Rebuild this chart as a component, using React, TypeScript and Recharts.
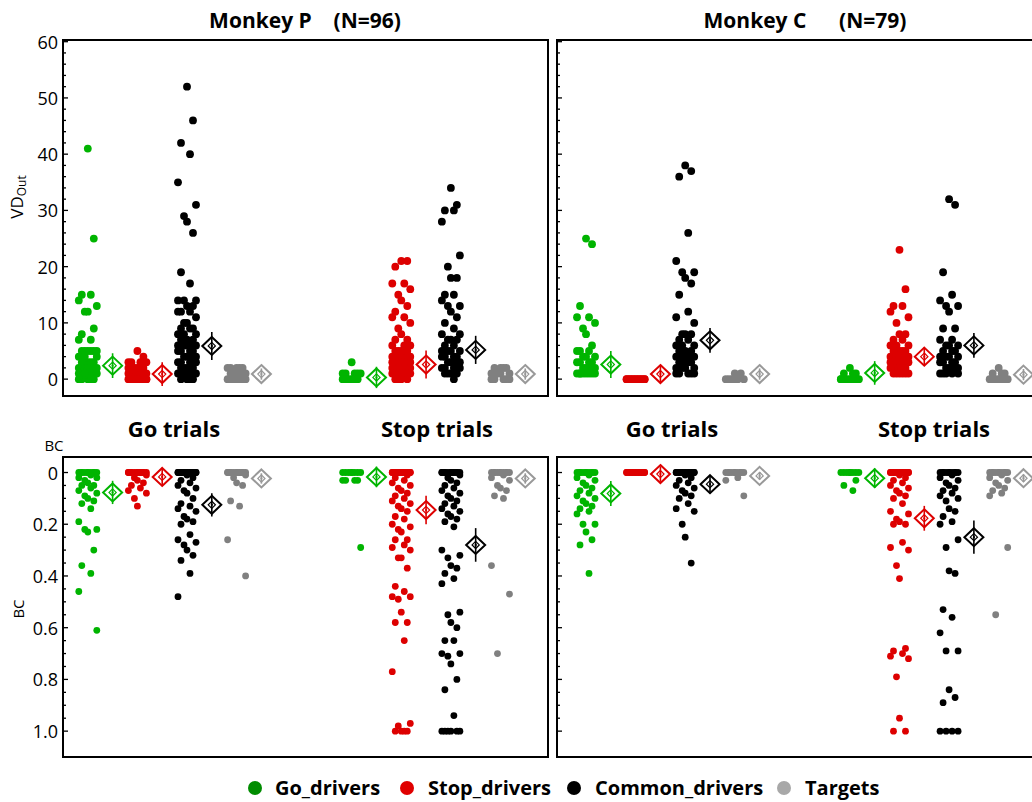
import { ErrorBar, ReferenceArea, Scatter, ScatterChart, XAxis, YAxis } from "recharts";

const groups = ["Go_drivers", "Stop_drivers", "Common_drivers", "Targets"];
const dotColors = ["#00b400", "#dd0000", "#000000", "#808080"];
const diamondColors = ["#00b400", "#dd0000", "#000000", "#999999"];
const legendColors = ["#008c00", "#e00000", "#000000", "#a8a8a8"];

// Monkey P, VD_Out
const pVdGo = [
  [41, 25, 15, 15, 14, 13, 12, 12, 9, 8, 7, 7, 5, 5, 5, 5, 5, 5, 4, 4, 4, 3, 3, 3, 3, 2, 2, 2, 2, 2, 1, 1, 1, 1, 1, 0, 0, 0, 0, 0],
  [5, 4, 3, 3, 3, 3, 2, 2, 2, 2, 2, 2, 1, 1, 1, 1, 1, 1, 1, 0, 0, 0, 0, 0, 0, 0, 0],
  [52, 46, 42, 40, 35, 31, 29, 28, 26, 19, 17, 14, 14, 14, 13, 13, 12, 12, 12, 11, 10, 10, 9, 9, 9, 8, 8, 8, 7, 7, 7, 6, 6, 6, 6, 6, 5, 5, 5, 5, 4, 4, 4, 4, 3, 3, 3, 3, 2, 2, 2, 2, 1, 1, 1, 1, 0, 0, 0, 0],
  [2, 2, 2, 2, 2, 1, 1, 1, 1, 1, 1, 0, 0, 0, 0, 0, 0, 0],
];
const pVdStop = [
  [3, 1, 1, 1, 1, 1, 0, 0, 0, 0, 0, 0],
  [21, 21, 20, 17, 17, 16, 15, 14, 13, 12, 11, 11, 10, 9, 8, 7, 7, 6, 6, 6, 5, 5, 5, 5, 5, 4, 4, 4, 4, 4, 3, 3, 3, 3, 3, 3, 2, 2, 2, 2, 2, 2, 1, 1, 1, 1, 1, 1, 0, 0, 0, 0],
  [34, 31, 30, 30, 28, 22, 20, 18, 18, 15, 15, 14, 13, 13, 12, 11, 10, 9, 8, 8, 7, 7, 7, 6, 6, 5, 5, 5, 5, 4, 4, 4, 4, 3, 3, 3, 3, 2, 2, 2, 2, 1, 1, 1, 1, 0],
  [2, 2, 2, 2, 1, 1, 1, 1, 0, 0, 0, 0, 0],
];
const pVdGoMean = [2.4, 0.9, 5.9, 0.9];
const pVdGoErr = [2.2, 2.1, 2.5, 1.0];
const pVdStopMean = [0.3, 2.6, 5.2, 0.9];
const pVdStopErr = [1.9, 2.5, 2.5, 1.0];

// Monkey C, VD_Out
const cVdGo = [
  [25, 24, 13, 11, 11, 10, 9, 8, 6, 5, 5, 5, 4, 4, 4, 3, 3, 3, 3, 2, 2, 2, 2, 1, 1, 1, 1, 1, 1, 1, 1],
  [0, 0, 0, 0, 0, 0, 0, 0, 0, 0, 0, 0, 0, 0],
  [38, 37, 36, 26, 21, 19, 19, 18, 17, 15, 12, 11, 10, 8, 8, 8, 7, 7, 6, 6, 6, 5, 5, 5, 4, 4, 4, 4, 3, 3, 3, 3, 2, 2, 2, 2, 1, 1, 1, 1, 1],
  [1, 1, 0, 0, 0, 0, 0, 0],
];
const cVdStop = [
  [2, 1, 1, 1, 0, 0, 0, 0, 0, 0, 0, 0],
  [23, 16, 13, 13, 12, 11, 10, 8, 8, 7, 7, 6, 6, 6, 5, 5, 5, 5, 4, 4, 4, 4, 4, 3, 3, 3, 3, 3, 2, 2, 2, 2, 2, 1, 1, 1, 1, 1, 1],
  [32, 31, 19, 15, 14, 13, 13, 12, 9, 9, 7, 7, 6, 6, 6, 5, 5, 5, 4, 4, 4, 4, 3, 3, 3, 3, 2, 2, 2, 2, 1, 1, 1, 1, 1],
  [2, 1, 1, 1, 0, 0, 0, 0, 0, 0, 0],
];
const cVdGoMean = [2.6, 0.9, 6.9, 0.9];
const cVdGoErr = [2.4, 1.6, 2.2, 1.0];
const cVdStopMean = [1.1, 4.0, 6.0, 0.8];
const cVdStopErr = [2.1, 1.6, 2.2, 1.0];

// Monkey P, BC
const pBcGo = [
  [0, 0, 0, 0, 0, 0, 0, 0, 0, 0, 0.01, 0.02, 0.02, 0.03, 0.04, 0.05, 0.05, 0.06, 0.07, 0.08, 0.09, 0.1, 0.11, 0.12, 0.14, 0.19, 0.22, 0.22, 0.23, 0.3, 0.36, 0.39, 0.46, 0.61],
  [0, 0, 0, 0, 0, 0, 0, 0, 0, 0, 0, 0, 0.01, 0.02, 0.03, 0.04, 0.05, 0.06, 0.07, 0.08, 0.1, 0.13],
  [0, 0, 0, 0, 0, 0, 0, 0, 0, 0, 0, 0, 0, 0, 0.01, 0.02, 0.03, 0.04, 0.05, 0.06, 0.07, 0.08, 0.1, 0.12, 0.13, 0.14, 0.15, 0.17, 0.18, 0.19, 0.2, 0.24, 0.26, 0.27, 0.28, 0.3, 0.32, 0.34, 0.39, 0.48],
  [0, 0, 0, 0, 0, 0, 0, 0, 0, 0, 0, 0, 0.01, 0.02, 0.04, 0.05, 0.11, 0.13, 0.26, 0.4],
];
const pBcStop = [
  [0, 0, 0, 0, 0, 0, 0, 0, 0.03, 0.03, 0.03, 0.03, 0.29],
  [0, 0, 0, 0, 0, 0, 0, 0, 0, 0, 0, 0, 0, 0, 0, 0.01, 0.02, 0.03, 0.04, 0.05, 0.06, 0.07, 0.08, 0.09, 0.1, 0.11, 0.12, 0.13, 0.14, 0.15, 0.17, 0.18, 0.2, 0.21, 0.22, 0.23, 0.26, 0.26, 0.28, 0.29, 0.3, 0.33, 0.33, 0.37, 0.44, 0.46, 0.48, 0.48, 0.49, 0.54, 0.58, 0.58, 0.65, 0.77, 0.97, 0.98, 1, 1, 1, 1],
  [0, 0, 0, 0, 0, 0, 0, 0, 0, 0, 0, 0, 0.01, 0.02, 0.03, 0.04, 0.05, 0.06, 0.07, 0.08, 0.09, 0.1, 0.11, 0.12, 0.13, 0.14, 0.15, 0.16, 0.17, 0.18, 0.19, 0.21, 0.3, 0.32, 0.33, 0.36, 0.37, 0.39, 0.41, 0.43, 0.54, 0.55, 0.58, 0.6, 0.65, 0.65, 0.7, 0.7, 0.71, 0.74, 0.8, 0.84, 0.94, 1, 1, 1, 1, 1, 1],
  [0, 0, 0, 0, 0, 0, 0, 0, 0, 0, 0.01, 0.02, 0.03, 0.05, 0.06, 0.07, 0.09, 0.1, 0.36, 0.47, 0.7],
];
const pBcGoMean = [0.077, 0.017, 0.125, 0.023];
const pBcGoErr = [0.045, 0.035, 0.045, 0.02];
const pBcStopMean = [0.017, 0.145, 0.28, 0.023];
const pBcStopErr = [0.04, 0.055, 0.065, 0.02];

// Monkey C, BC
const cBcGo = [
  [0, 0, 0, 0, 0, 0, 0, 0, 0, 0, 0.01, 0.02, 0.03, 0.04, 0.05, 0.06, 0.07, 0.08, 0.09, 0.1, 0.11, 0.12, 0.13, 0.14, 0.15, 0.16, 0.2, 0.2, 0.23, 0.26, 0.28, 0.39],
  [0, 0, 0, 0, 0, 0, 0, 0, 0, 0, 0, 0, 0, 0],
  [0, 0, 0, 0, 0, 0, 0, 0, 0, 0, 0, 0, 0, 0, 0.01, 0.02, 0.03, 0.04, 0.05, 0.06, 0.07, 0.08, 0.09, 0.1, 0.12, 0.14, 0.15, 0.2, 0.25, 0.35],
  [0, 0, 0, 0, 0, 0, 0, 0, 0, 0, 0.02, 0.03, 0.09],
];
const cBcStop = [
  [0, 0, 0, 0, 0, 0, 0, 0, 0.03, 0.05, 0.07],
  [0, 0, 0, 0, 0, 0, 0, 0, 0, 0, 0, 0, 0, 0, 0.01, 0.02, 0.03, 0.04, 0.05, 0.06, 0.07, 0.08, 0.09, 0.1, 0.12, 0.15, 0.16, 0.18, 0.19, 0.2, 0.2, 0.27, 0.29, 0.3, 0.36, 0.41, 0.68, 0.69, 0.7, 0.71, 0.72, 0.79, 0.95, 1, 1],
  [0, 0, 0, 0, 0, 0, 0, 0, 0, 0, 0.01, 0.02, 0.03, 0.04, 0.05, 0.06, 0.07, 0.08, 0.09, 0.1, 0.11, 0.14, 0.15, 0.17, 0.19, 0.2, 0.26, 0.29, 0.38, 0.39, 0.53, 0.56, 0.62, 0.69, 0.69, 0.84, 0.87, 0.89, 1, 1, 1, 1],
  [0, 0, 0, 0, 0, 0, 0, 0, 0, 0, 0.01, 0.02, 0.03, 0.04, 0.05, 0.06, 0.07, 0.08, 0.09, 0.29, 0.55],
];
const cBcGoMean = [0.081, 0.006, 0.045, 0.013];
const cBcGoErr = [0.048, 0.03, 0.035, 0.015];
const cBcStopMean = [0.022, 0.177, 0.25, 0.022];
const cBcStopErr = [0.038, 0.048, 0.064, 0.015];

// tick labels
const vdMajor = [0, 10, 20, 30, 40, 50, 60];
const bcMajor = [0, 0.2, 0.4, 0.6, 0.8, 1.0];

// layout
const GO_SLOTS = [1, 2, 3, 4];
const STOP_SLOTS = [6.32, 7.32, 8.32, 9.32];
const PX_PER_SLOT = 49.6;
const JITTER_PX = [0, 6, -6, 3, -9, 9, -3];
const vdTicks = Array.from({ length: 31 }, (_, i) => i * 2);
const bcTicks = Array.from({ length: 21 }, (_, i) => Math.round(i * 5) / 100);

const spread = (values: number[], slot: number) =>
  values.map((v, i) => ({ x: slot + JITTER_PX[i % JITTER_PX.length] / PX_PER_SLOT, y: v }));

const dot = (color: string, r: number) => (p: any) =>
  <circle cx={p.cx} cy={p.cy} r={r} fill={color} />;

const diamond = (color: string) => (p: any) => {
  const { cx, cy } = p;
  const w = 9.5, h = 9, s = 3.6;
  return (
    <g>
      <polygon points={`${cx},${cy - h} ${cx + w},${cy} ${cx},${cy + h} ${cx - w},${cy}`} fill="none" stroke={color} strokeWidth={2} />
      <polygon points={`${cx},${cy - s} ${cx + s},${cy} ${cx},${cy + s} ${cx - s},${cy}`} fill="none" stroke={color} strokeWidth={1.2} />
      <circle cx={cx} cy={cy} r={1.1} fill={color} />
    </g>
  );
};

type PanelProps = {
  go: number[][];
  stop: number[][];
  goMean: number[];
  goErr: number[];
  stopMean: number[];
  stopErr: number[];
  width: number;
  height: number;
  margin: { top: number; right: number; bottom: number; left: number };
  axisWidth: number;
  xDomain: [number, number];
  yDomain: [number, number];
  reversed?: boolean;
  ticks: number[];
  majors: number[];
  labels: boolean;
  fmt: (v: number) => string;
  r: number;
};

const Panel = (props: PanelProps) => {
  const { go, stop, goMean, goErr, stopMean, stopErr, xDomain, yDomain, majors, labels, fmt, r } = props;

  const renderTick = (t: any) => {
    const v = t.payload.value;
    const major = majors.some((m) => Math.abs(m - v) < 1e-6);
    return (
      <g>
        <line x1={t.x} x2={t.x + (major ? 5 : 3)} y1={t.y} y2={t.y} stroke="#000" strokeWidth={1.3} />
        {labels && major && (
          <text x={t.x - 5} y={t.y} textAnchor="end" dominantBaseline="central" fontSize={18} fill="#000" fontFamily="'Open Sans', sans-serif">
            {fmt(v)}
          </text>
        )}
      </g>
    );
  };

  return (
    <ScatterChart width={props.width} height={props.height} margin={props.margin}>
      <XAxis type="number" dataKey="x" domain={xDomain} allowDataOverflow hide />
      <YAxis
        type="number"
        dataKey="y"
        domain={yDomain}
        allowDataOverflow
        reversed={props.reversed}
        ticks={props.ticks}
        interval={0}
        width={props.axisWidth}
        axisLine={false}
        tickLine={false}
        tickSize={0}
        tickMargin={0}
        tick={renderTick}
      />
      <ReferenceArea x1={xDomain[0]} x2={xDomain[1]} y1={yDomain[0]} y2={yDomain[1]} fill="none" stroke="#000" strokeWidth={2} ifOverflow="visible" />
      {groups.map((g, k) => (
        <Scatter key={"go-" + g} data={spread(go[k], GO_SLOTS[k])} shape={dot(dotColors[k], r)} isAnimationActive={false} />
      ))}
      {groups.map((g, k) => (
        <Scatter key={"stop-" + g} data={spread(stop[k], STOP_SLOTS[k])} shape={dot(dotColors[k], r)} isAnimationActive={false} />
      ))}
      {groups.map((g, k) => (
        <Scatter
          key={"mean-" + g}
          data={[
            { x: GO_SLOTS[k] + 0.5, y: goMean[k], err: goErr[k] },
            { x: STOP_SLOTS[k] + 0.5, y: stopMean[k], err: stopErr[k] },
          ]}
          shape={diamond(diamondColors[k])}
          isAnimationActive={false}
        >
          <ErrorBar dataKey="err" direction="y" width={0} stroke={diamondColors[k]} strokeWidth={1.6} isAnimationActive={false} />
        </Scatter>
      ))}
    </ScatterChart>
  );
};

const abs = (left: number, top: number): React.CSSProperties => ({ position: "absolute", left, top });

const Label = (p: { x: number; y: number; size: number; bold?: boolean; rotate?: boolean; children: any }) => (
  <div
    style={{
      position: "absolute",
      left: p.x,
      top: p.y,
      transform: `translate(-50%, -50%)${p.rotate ? " rotate(-90deg)" : ""}`,
      fontSize: p.size,
      fontWeight: p.bold ? 700 : 400,
      whiteSpace: "pre",
      lineHeight: 1,
    }}
  >
    {p.children}
  </div>
);

const vdFmt = (v: number) => String(v);
const bcFmt = (v: number) => (v === 0 ? "0" : v.toFixed(1));

const leftX: [number, number] = [0.5, 0.5 + 485 / PX_PER_SLOT];
const rightX: [number, number] = [0.415, 0.415 + 485 / PX_PER_SLOT];
const vdDomain: [number, number] = [-3, 60.3];
const bcDomain: [number, number] = [-0.06, 1.1];

const legendItems = [
  { dot: 255, text: 275 },
  { dot: 407, text: 428 },
  { dot: 574, text: 595 },
  { dot: 784, text: 805 },
];

export default function App() {
  return (
    <div
      style={{
        position: "absolute",
        left: 0,
        top: 0,
        width: 1032,
        height: 802,
        overflow: "hidden",
        background: "#fff",
        color: "#000",
        fontFamily: "'Open Sans', sans-serif",
      }}
    >
      <div style={abs(0, 0)}>
        <Panel go={pVdGo} stop={pVdStop} goMean={pVdGoMean} goErr={pVdGoErr} stopMean={pVdStopMean} stopErr={pVdStopErr}
          width={560} height={400} margin={{ top: 40, right: 12, bottom: 4, left: 23 }} axisWidth={40}
          xDomain={leftX} yDomain={vdDomain} ticks={vdTicks} majors={vdMajor} labels fmt={vdFmt} r={3.9} />
      </div>
      <div style={abs(540, 0)}>
        <Panel go={cVdGo} stop={cVdStop} goMean={cVdGoMean} goErr={cVdGoErr} stopMean={cVdStopMean} stopErr={cVdStopErr}
          width={520} height={400} margin={{ top: 40, right: 18, bottom: 4, left: 16 }} axisWidth={1}
          xDomain={rightX} yDomain={vdDomain} ticks={vdTicks} majors={vdMajor} labels={false} fmt={vdFmt} r={3.9} />
      </div>
      <div style={abs(0, 400)}>
        <Panel go={pBcGo} stop={pBcStop} goMean={pBcGoMean} goErr={pBcGoErr} stopMean={pBcStopMean} stopErr={pBcStopErr}
          width={560} height={400} margin={{ top: 57, right: 12, bottom: 43, left: 23 }} axisWidth={40}
          xDomain={leftX} yDomain={bcDomain} reversed ticks={bcTicks} majors={bcMajor} labels fmt={bcFmt} r={3.4} />
      </div>
      <div style={abs(540, 400)}>
        <Panel go={cBcGo} stop={cBcStop} goMean={cBcGoMean} goErr={cBcGoErr} stopMean={cBcStopMean} stopErr={cBcStopErr}
          width={520} height={400} margin={{ top: 57, right: 18, bottom: 43, left: 16 }} axisWidth={1}
          xDomain={rightX} yDomain={bcDomain} reversed ticks={bcTicks} majors={bcMajor} labels={false} fmt={bcFmt} r={3.4} />
      </div>

      <Label x={305} y={20} size={21} bold>{"Monkey P    (N=96)"}</Label>
      <Label x={805} y={20} size={21} bold>{"Monkey C      (N=79)"}</Label>
      <Label x={174} y={428} size={22} bold>Go trials</Label>
      <Label x={437} y={428} size={22} bold>Stop trials</Label>
      <Label x={672} y={428} size={22} bold>Go trials</Label>
      <Label x={934} y={428} size={22} bold>Stop trials</Label>
      <Label x={54} y={445} size={15}>BC</Label>
      <Label x={18} y={197} size={17} rotate>
        <span>VD</span>
        <span style={{ fontSize: 12, verticalAlign: "-0.25em" }}>Out</span>
      </Label>
      <Label x={18} y={609} size={15} rotate>BC</Label>

      {legendItems.map((it, k) => (
        <div key={groups[k]}>
          <div style={{ position: "absolute", left: it.dot - 7, top: 781, width: 14, height: 14, borderRadius: 7, background: legendColors[k] }} />
          <div style={{ position: "absolute", left: it.text, top: 788, transform: "translateY(-50%)", fontSize: 20, fontWeight: 700, lineHeight: 1 }}>
            {groups[k]}
          </div>
        </div>
      ))}
    </div>
  );
}
